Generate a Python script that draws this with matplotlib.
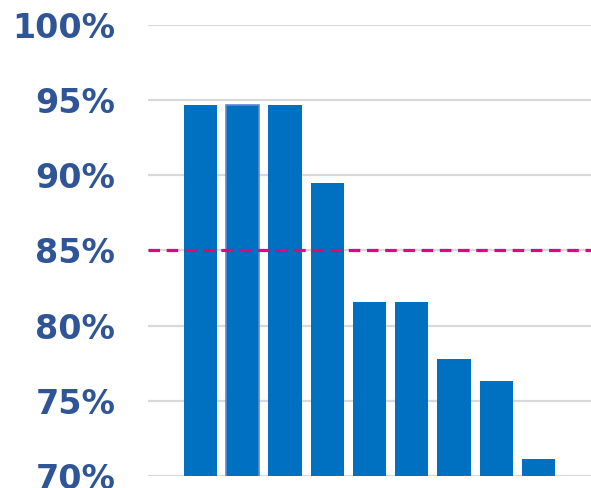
import numpy as np
import matplotlib
matplotlib.use("Agg")
import matplotlib.pyplot as plt
from matplotlib.ticker import FuncFormatter

# share of target met per group (%)
groups = ["G1", "G2", "G3", "G4", "G5", "G6", "G7", "G8", "G9"]
values = [94.7, 94.7, 94.7, 89.5, 81.6, 81.6, 77.8, 76.3, 71.1]
target = 85.0
yticks = [70, 75, 80, 85, 90, 95, 100]

BAR = "#0070C0"
LABEL = "#2F5597"
PINK = "#E6007E"

fig = plt.figure(figsize=(5.91, 4.88), dpi=100)
ax = fig.add_axes([0.2504, 0.0246, 0.7496, 0.9242])

x = np.arange(len(groups))
bars = ax.bar(x, values, width=0.79, color=BAR, zorder=2)
bars[1].set_edgecolor("#5B8AD6"); bars[1].set_linewidth(1.2)

ax.axhline(target, color=PINK, lw=2.3, ls=(0, (3.6, 2.1)), zorder=3)

ax.set_ylim(70, 100)
ax.set_xlim(-1.24, len(groups) - 1 + 1.24)
ax.set_yticks(yticks)
ax.yaxis.set_major_formatter(FuncFormatter(lambda v, _: f"{v:.0f}%"))
ax.set_xticks([])
ax.grid(axis="y", color="#D9D9D9", lw=1.6, zorder=0)
ax.tick_params(axis="y", length=0, pad=23.5, labelsize=24, labelcolor=LABEL)
for t in ax.get_yticklabels():
    t.set_fontweight("bold")
for s in ax.spines.values():
    s.set_visible(False)

fig.savefig("out.png", dpi=100)
